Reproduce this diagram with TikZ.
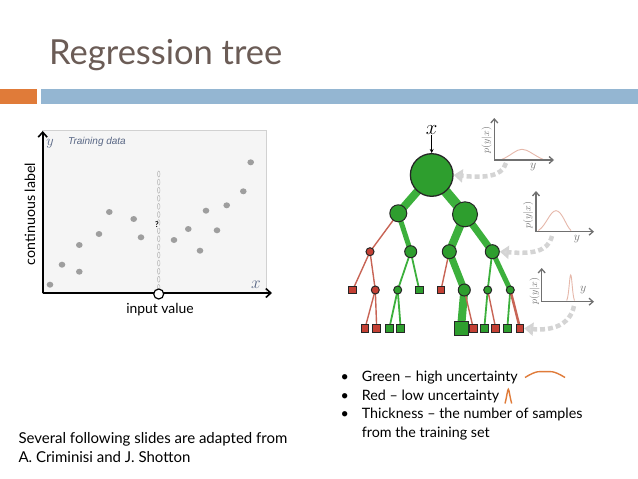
\documentclass[tikz,border=0pt]{standalone}
\usepackage{fontspec}
\setmainfont{Lato}
\newfontfamily\arialf{Liberation Sans}
\usetikzlibrary{arrows.meta,backgrounds}
\pgfdeclarelayer{bottomlayer}
\pgfsetlayers{bottomlayer,background,main}
\definecolor{titlec}{RGB}{107,92,86}
\definecolor{barorange}{RGB}{224,123,57}
\definecolor{barblue}{RGB}{148,182,210}
\definecolor{tgreen}{RGB}{46,158,46}
\definecolor{egreen}{RGB}{60,176,60}
\definecolor{tred}{RGB}{196,64,52}
\definecolor{ered}{RGB}{200,100,85}
\definecolor{axgray}{RGB}{112,112,112}
\definecolor{pdfc}{RGB}{230,184,170}
\definecolor{labblue}{RGB}{88,102,132}
\begin{document}
\begin{tikzpicture}[x=1pt,y=-1pt,
  gc/.style={circle,inner sep=0pt,fill=tgreen,draw=black!85,line width=1pt},
  rc/.style={circle,inner sep=0pt,fill=tred,draw=black!85,line width=1pt,minimum size=8pt},
  gs/.style={rectangle,inner sep=0pt,fill=tgreen,draw=black!85,line width=1pt,minimum size=7.5pt},
  rs/.style={rectangle,inner sep=0pt,fill=tred,draw=black!85,line width=1pt,minimum size=7.5pt},
  ge/.style={draw=egreen,line width=#1},
  ge/.default=1.8pt,
  re/.style={draw=ered,line width=#1},
  re/.default=1.4pt,
  garr/.style={draw=black!17,line width=4.5pt,dash pattern=on 5pt off 3pt,-{Triangle[length=9pt,width=13pt,fill=black!15]}},
  pax/.style={draw=axgray,line width=1.3pt,-{Straight Barb[length=4pt,width=7pt]}},
  pdf/.style={draw=pdfc,line width=0.9pt},
  plab/.style={rotate=90,inner sep=0pt,text=black!55,font=\fontsize{10}{10}\selectfont},
  ylb/.style={inner sep=0pt,text=black!55,font=\fontsize{11.5}{11.5}\selectfont},
  dot/.style={fill=black!38},
  txt/.style={font=\fontsize{14.3}{17}\selectfont,anchor=base west,inner sep=0pt},
  ctxt/.style={font=\fontsize{15}{18}\selectfont,anchor=base west,inner sep=0pt}
]
\begin{pgfonlayer}{bottomlayer}
\fill[white] (0,0) rectangle (638,479);
\end{pgfonlayer}
\useasboundingbox (0,0) rectangle (638,479);

% title and bars
\node[anchor=base west,inner sep=0pt,text=titlec,font=\fontsize{34.5}{40}\selectfont] (title) at (49,64) {Regression tree};
\fill[barorange] (0,89) rectangle (37,104);
\fill[barblue] (41,89) rectangle (638,104);

% left plot
\filldraw[fill=black!4,draw=black!18,line width=0.6pt] (42.7,130) rectangle (266,293);
\node[anchor=base west,inner sep=0pt,text=labblue,font=\arialf\fontsize{10}{11}\selectfont\itshape] (td) at (68,144) {Training data};
\node[inner sep=0pt,text=labblue,font=\fontsize{15}{15}\selectfont] (ylab) at (50,144) {$y$};
\node[inner sep=0pt,text=labblue,font=\fontsize{16}{16}\selectfont] (xlab) at (256,285) {$x$};
\foreach \px/\py in {50/284.7,62/264.7,79.3/271.7,79.3/245,99/234,109.3/212,133.7/219,141/237.3,174/240,188.3/229,200/250.7,206/210.7,217/230.3,226.7/205.3,243.3/191.3,250.7/162.3}
  \fill[dot] (\px,\py) ellipse (3.3 and 3);
\foreach \i in {0,...,14}
  \draw[draw=black!28,line width=0.5pt] (158.7,174+\i*8.1) ellipse (1.3 and 3);
\node[inner sep=0.5pt,fill=black!4,font=\fontsize{8}{8}\selectfont\bfseries] (q) at (157,225) {?};
\draw[line width=1.6pt,-{Straight Barb[length=5pt,width=9pt]}] (42.7,293) -- (42.7,131);
\draw[line width=1.6pt,-{Straight Barb[length=5pt,width=9pt]}] (42.7,293) -- (272,293);
\node[circle,inner sep=0pt,minimum size=10pt,fill=white,draw=black,line width=1.2pt] (iv) at (158.7,294) {};
\node[anchor=base,inner sep=0pt,font=\fontsize{13.9}{16}\selectfont] (ivl) at (160,313) {input value};
\node[rotate=90,inner sep=0pt,font=\fontsize{14.2}{16}\selectfont] (cl) at (30,214) {continuous label};

% tree nodes
\node[inner sep=0pt,font=\fontsize{21}{21}\selectfont] (xt) at (431.7,130) {$x$};
\node[gc,minimum size=42.6pt,line width=1.3pt] (r) at (431.7,175) {};
\node[gc,minimum size=17pt] (a) at (398.3,213.3) {};
\node[gc,minimum size=25pt] (b) at (465,214.3) {};
\node[rc] (c) at (370,251.7) {};
\node[gc,minimum size=12pt] (d) at (410.7,251.7) {};
\node[gc,minimum size=14pt] (e) at (449.3,251.7) {};
\node[gc,minimum size=14pt] (f) at (492.3,251.7) {};
\node[rs] (g) at (352.7,290) {};
\node[rc] (h) at (375.3,290) {};
\node[gc,minimum size=8pt] (i) at (397.7,290) {};
\node[gs] (j) at (419.3,290) {};
\node[rs] (k) at (441,290) {};
\node[gc,minimum size=12pt] (l) at (464.3,290) {};
\node[gc,minimum size=8pt] (m) at (487.7,290) {};
\node[gc,minimum size=8pt] (n) at (510.3,290) {};
\node[rs] (o) at (365,328.3) {};
\node[rs] (p) at (376.7,328.3) {};
\node[gs] (s) at (389.3,328.3) {};
\node[gs] (t) at (400.7,328.3) {};
\node[gs,minimum size=14pt] (u) at (461,328.3) {};
\node[rs] (v) at (473.3,328.3) {};
\node[gs] (w) at (484.3,328.3) {};
\node[rs] (z) at (495.7,328.3) {};
\node[gs] (aa) at (507.3,328.3) {};
\node[rs] (ab) at (520,328.3) {};
\draw[line width=1pt,-{Stealth[length=4pt,width=4pt]}] (xt.south) -- (r.north);

\begin{scope}[on background layer]
\draw[ge=8pt] (r.center) -- (a.center);
\draw[ge=10pt] (r.center) -- (b.center);
\draw[re] (a.center) -- (c.center);
\draw[ge=5pt] (a.center) -- (d.center);
\draw[ge=8pt] (b.center) -- (e.center);
\draw[ge=7pt] (b.center) -- (f.center);
\draw[re] (c.center) -- (g.center);
\draw[re] (c.center) -- (h.center);
\draw[ge] (d.center) -- (i.center);
\draw[ge] (d.center) -- (j.center);
\draw[re] (e.center) -- (k.center);
\draw[ge=7pt] (e.center) -- (l.center);
\draw[ge] (f.center) -- (m.center);
\draw[ge=5pt] (f.center) -- (n.center);
\draw[re] (h.center) -- (o.center);
\draw[re] (h.center) -- (p.center);
\draw[ge] (i.center) -- (s.center);
\draw[ge] (i.center) -- (t.center);
\draw[ge=8pt] (l.center) -- (u.center);
\draw[re] (l.center) -- (v.center);
\draw[ge] (m.center) -- (w.center);
\draw[re] (m.center) -- (z.center);
\draw[ge] (n.center) -- (aa.center);
\draw[re=2.5pt] (n.center) -- (ab.center);
\end{scope}

% posterior plots
\draw[pdf] (501.7,159.5) .. controls (512,155) and (516,149.3) .. (522,149.3) .. controls (528,149.3) and (533,155) .. (543.3,159.5);
\draw[pax] (494.3,160) -- (494.3,118);
\draw[pax] (494.3,160) -- (554,160);
\node[plab] (p1) at (486.5,140) {$p(y|x)$};
\node[ylb] (y1) at (533.3,167) {$y$};

\draw[pdf] (538.3,230.5) .. controls (546,226) and (550,210.7) .. (556,210.7) .. controls (562,210.7) and (566,226) .. (571,230.5);
\draw[pax] (536,231.7) -- (536,191);
\draw[pax] (536,231.7) -- (594,231.7);
\node[plab] (p2) at (528,215) {$p(y|x)$};
\node[ylb] (y2) at (577,239) {$y$};

\draw[pdf] (566.7,300.5) .. controls (569,296) and (569.5,275) .. (570.7,275) .. controls (571.9,275) and (572.4,296) .. (574.5,300.5);
\draw[pax] (541.7,301.7) -- (541.7,268);
\draw[pax] (541.7,301.7) -- (594,301.7);
\node[plab] (p3) at (534.5,291) {$p(y|x)$};
\node[ylb] (y3) at (583.3,290) {$y$};

% gray curved arrows
\coordinate (s1) at (506,163);
\coordinate (s2) at (552,236);
\coordinate (s3) at (574,306);
\draw[garr] (s1) .. controls (502,177) and (484,178) .. (r.east);
\draw[garr] (s2) .. controls (548,252) and (532,254) .. (f.east);
\draw[garr] (s3) .. controls (570,325) and (552,331) .. (ab.east);

% bullets
\node[txt] (b1) at (361.7,381.5) {Green -- high uncertainty};
\node[txt] (b2) at (361.7,400) {Red -- low uncertainty};
\node[txt] (b3) at (361.7,418.5) {Thickness -- the number of samples};
\node[txt] (b4) at (361.7,437) {from the training set};
\foreach \yy in {381.5,400,418.5}
  \node[txt] at (340.5,\yy) {\textbullet};
\draw[draw=barorange,line width=1.4pt] (525,377.5) .. controls (537,370) and (540,371.7) .. (545,371.7) .. controls (550,371.7) and (553,370) .. (565,377.5);
\draw[draw=barorange,line width=1.4pt] (505,403.5) .. controls (507,396) and (507.5,389.3) .. (508.3,389.3) .. controls (509.1,389.3) and (509.6,396) .. (511.7,403.5);

% credit
\node[ctxt] (c1) at (18.3,443) {Several following slides are adapted from};
\node[ctxt] (c2) at (18.3,462) {A. Criminisi and J. Shotton};
\end{tikzpicture}
\end{document}
